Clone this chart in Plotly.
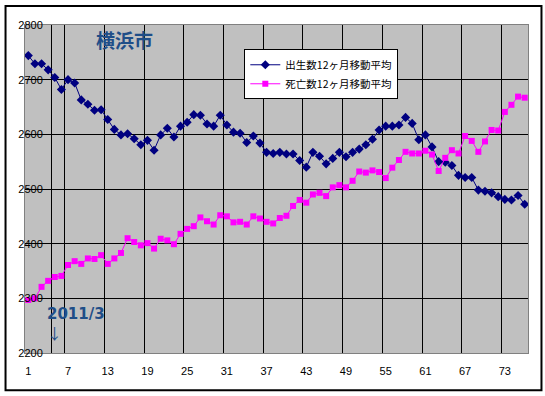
import plotly.graph_objects as go

months = list(range(1, 77))
births = [2744, 2729, 2729, 2718, 2704, 2682, 2700, 2694, 2663, 2655,
          2644, 2645, 2627, 2609, 2599, 2601, 2592, 2581, 2589, 2571,
          2599, 2611, 2595, 2615, 2622, 2636, 2635, 2619, 2615, 2635,
          2617, 2604, 2602, 2585, 2597, 2584, 2567, 2565, 2567, 2564,
          2564, 2552, 2540, 2567, 2560, 2546, 2556, 2567, 2559, 2567,
          2573, 2581, 2591, 2608, 2615, 2615, 2617, 2631, 2620, 2590,
          2599, 2577, 2550, 2549, 2543, 2525, 2521, 2521, 2498, 2496,
          2493, 2486, 2481, 2480, 2488, 2472]
deaths = [2297, 2300, 2321, 2332, 2339, 2341, 2361, 2368, 2363, 2373,
          2372, 2379, 2363, 2373, 2383, 2410, 2403, 2397, 2401, 2391,
          2409, 2406, 2399, 2418, 2427, 2432, 2448, 2441, 2435, 2452,
          2450, 2439, 2440, 2435, 2450, 2446, 2440, 2437, 2447, 2451,
          2469, 2480, 2475, 2490, 2493, 2487, 2503, 2507, 2503, 2515,
          2532, 2530, 2534, 2531, 2520, 2539, 2553, 2568, 2565, 2565,
          2570, 2563, 2533, 2557, 2571, 2565, 2597, 2588, 2568, 2587,
          2608, 2607, 2641, 2654, 2669, 2667]
x_tick_vals = [1, 7, 13, 19, 25, 31, 37, 43, 49, 55, 61, 67, 73]
x_tick_text = [str(v) for v in x_tick_vals]
x_grid_vals = [4.5] + [0.5 + 6 * k for k in range(1, 13)]
y_tick_vals = [2200, 2300, 2400, 2500, 2600, 2700, 2800]
series_names = ["出生数12ヶ月移動平均", "死亡数12ヶ月移動平均"]
title_text = "横浜市"
note_text = "2011/3"

FONT = "Liberation Sans, Noto Sans CJK JP, sans-serif"
CJK = "Noto Sans CJK JP, sans-serif"

fig = go.Figure()
fig.add_trace(go.Scatter(
    x=months, y=births, mode="lines+markers", name=series_names[0],
    line=dict(color="#000080", width=1),
    marker=dict(symbol="diamond", size=7, color="#000080"),
))
fig.add_trace(go.Scatter(
    x=months, y=deaths, mode="lines+markers", name=series_names[1],
    line=dict(color="#FF00FF", width=1),
    marker=dict(symbol="square", size=6, color="#FF00FF"),
))

fig.update_layout(
    width=545, height=396,
    margin=dict(l=24.5, r=17, t=24.7, b=43.3),
    paper_bgcolor="white", plot_bgcolor="#C0C0C0",
    font=dict(family=FONT, size=11, color="black"),
    showlegend=True,
    legend=dict(
        x=0.436, y=0.926, xanchor="left", yanchor="top",
        bgcolor="white", bordercolor="black", borderwidth=1,
        font=dict(family=CJK, size=10.5, color="black"),
        itemwidth=30, tracegroupgap=0,
    ),
    xaxis=dict(
        range=[0.5, 76.5], tickmode="array", tickvals=x_tick_vals,
        ticktext=x_tick_text, showgrid=False, zeroline=False,
        showline=True, linecolor="#808080", linewidth=1, mirror=True,
        ticks="", ticklabelstandoff=8, automargin=False,
        tickfont=dict(family=FONT, size=11, color="black"),
        minor=dict(tickmode="array", tickvals=x_grid_vals, showgrid=True,
                   gridcolor="black", gridwidth=1, ticks=""),
    ),
    yaxis=dict(
        range=[2200, 2800], tickmode="array", tickvals=y_tick_vals,
        showgrid=True, gridcolor="black", gridwidth=1, zeroline=False,
        showline=True, linecolor="#808080", linewidth=1, mirror=True,
        ticks="", ticklabelstandoff=-21, automargin=False,
        tickfont=dict(family=FONT, size=11, color="black"),
    ),
    annotations=[
        dict(text="<b>" + title_text + "</b>", xref="paper", yref="paper",
             x=0.1986, y=0.957, xanchor="center", yanchor="middle",
             showarrow=False,
             font=dict(family=CJK, size=19, color="#1F4E88")),
        dict(text="<b>" + note_text + "</b><br>"
                  "<span style='font-family:Noto Sans CJK JP'>↓</span>",
             xref="paper", yref="paper", align="left",
             x=0.0407, y=0.089, xanchor="left", yanchor="middle",
             showarrow=False,
             font=dict(family="DejaVu Sans, sans-serif", size=15, color="#1F4E88")),
    ],
    shapes=[
        dict(type="rect", xref="paper", yref="paper",
             x0=-0.0387, x1=1.0268, y0=-0.1137, y1=1.0576,
             line=dict(color="black", width=2), fillcolor="rgba(0,0,0,0)",
             layer="above"),
    ],
)

fig.write_html("out.html",
               config={"displayModeBar": False},
               post_script="document.body.style.margin='0';document.body.style.overflow='hidden';")
